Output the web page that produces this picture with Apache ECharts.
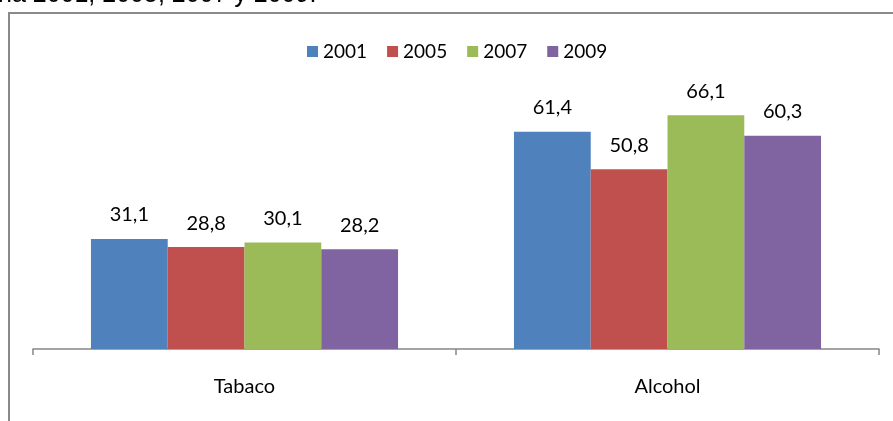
<!DOCTYPE html>
<html>
<head>
<meta charset="utf-8">
<script src="https://cdn.jsdelivr.net/npm/echarts@6/dist/echarts.min.js"></script>
<style>
  html, body { margin: 0; padding: 0; background: #fff; }
  #main { width: 893px; height: 421px; }
</style>
</head>
<body>
<div id="main"></div>
<script>
var categories = ['Tabaco', 'Alcohol'];
var years = ['2001', '2005', '2007', '2009'];
var v2001 = [31.1, 61.4];
var v2005 = [28.8, 50.8];
var v2007 = [30.1, 66.1];
var v2009 = [28.2, 60.3];
var colors = ['#4F81BD', '#C0504D', '#9BBB59', '#8064A2'];

var font = 'Lato, "Open Sans", sans-serif';
var seriesData = [v2001, v2005, v2007, v2009];

// 基于准备好的dom，初始化echarts实例
var myChart = echarts.init(document.getElementById('main'));

myChart.setOption({
    animation: false,
    color: colors,
    graphic: [
        {
            type: 'text', left: -2, top: -17,
            style: { text: 'na 2001, 2005, 2007 y 2009.', font: '25px "Liberation Sans", Arial, sans-serif', fill: '#000' }
        },
        {
            type: 'rect', shape: { x: 9, y: 13, width: 900, height: 420 },
            style: { fill: 'none', stroke: '#8a8a8a', lineWidth: 2 }
        }
    ],
    legend: {
        data: years,
        top: 37,
        left: 302,
        itemWidth: 11,
        itemHeight: 11,
        itemGap: 20,
        icon: 'rect',
        textStyle: { fontFamily: font, fontSize: 19, color: '#000' }
    },
    grid: { left: 33, right: 14, top: 66, bottom: 72 },
    xAxis: {
        type: 'category',
        data: categories,
        axisLine: { lineStyle: { color: '#868686', width: 1.5 } },
        axisTick: { show: true, length: 6, lineStyle: { color: '#868686', width: 1.5 } },
        axisLabel: { fontFamily: font, fontSize: 20, color: '#000', margin: 28 }
    },
    yAxis: { type: 'value', min: 0, max: 80, show: false, splitLine: { show: false } },
    series: seriesData.map(function (d, i) {
        return {
            name: years[i],
            type: 'bar',
            data: d,
            barGap: '0%',
            barCategoryGap: '27.4%',
            label: {
                show: true,
                position: 'top',
                distance: 14,
                fontFamily: font,
                fontSize: 20,
                color: '#000',
                formatter: function (p) { return String(p.value).replace('.', ','); }
            }
        };
    })
});
</script>
</body>
</html>
